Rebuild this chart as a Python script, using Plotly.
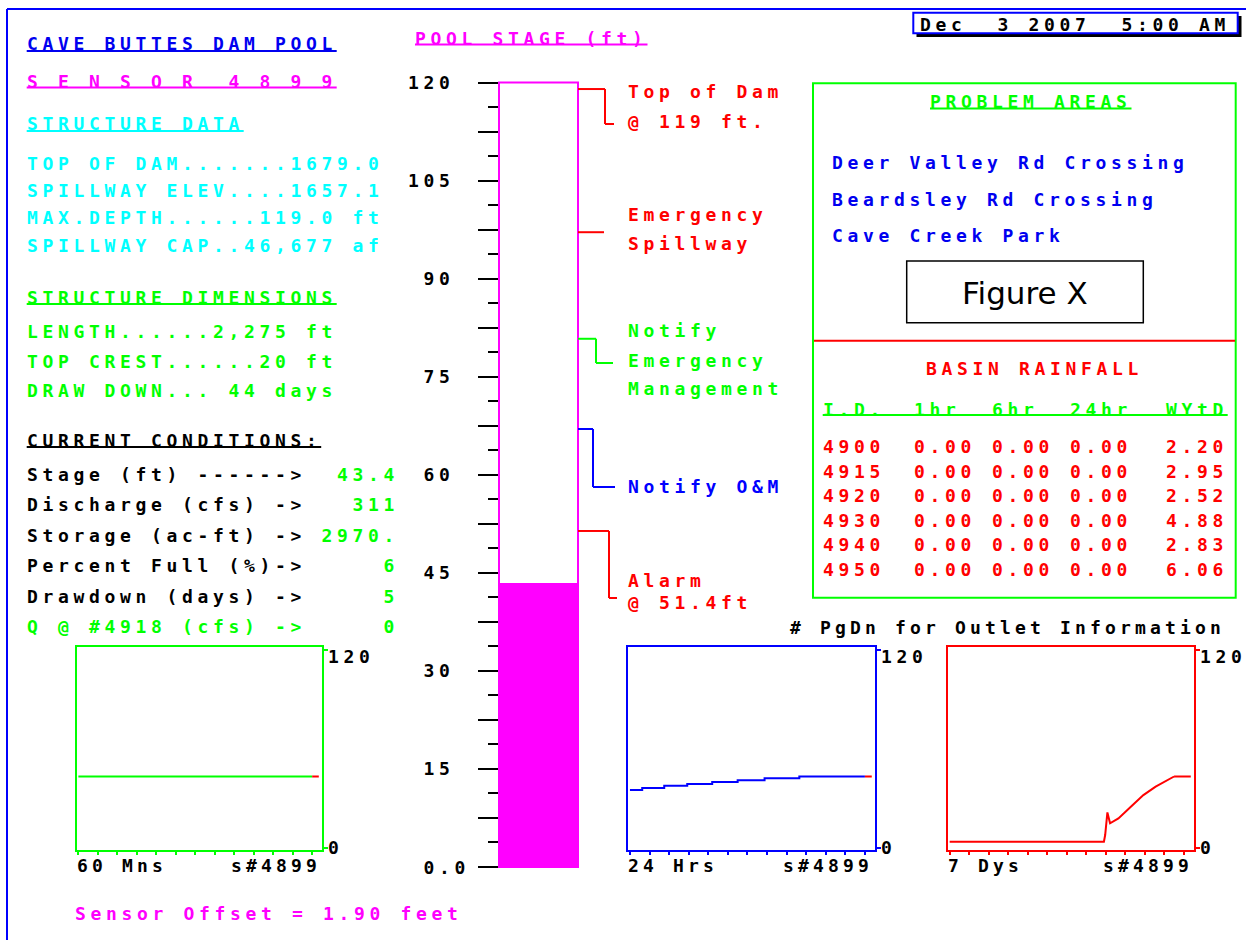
import plotly.graph_objects as go

W, H = 1246, 940

# ------------------------------------------------------------------ data
date_stamp = "Dec  3 2007  5:00 AM"
site_title = "CAVE BUTTES DAM POOL"
sensor_id = "4899"

structure_names = ["TOP OF DAM.......", "SPILLWAY ELEV....", "MAX.DEPTH......", "SPILLWAY CAP.."]
structure_values = ["1679.0", "1657.1", "119.0 ft", "46,677 af"]

dimension_names = ["LENGTH......", "TOP CREST......", "DRAW DOWN... "]
dimension_values = ["2,275 ft", "20 ft", "44 days"]

condition_labels = ["Stage (ft) ------>", "Discharge (cfs) ->", "Storage (ac-ft) ->",
                    "Percent Full (%)->", "Drawdown (days) ->", "Q @ #4918 (cfs) ->"]
condition_values = ["43.4", "311", "2970.", "6", "5", "0"]

stage_now = 43.4
stage_top = 120
stage_label_vals = [120, 105, 90, 75, 60, 45, 30, 15, 0]
threshold_levels = [119.0, 97.1, 80.8, 67.0, 51.4]
threshold_texts = [["Top of Dam", "@ 119 ft."], ["Emergency", "Spillway"],
                   ["Notify", "Emergency", "Management"], ["Notify O&amp;M"], ["Alarm", "@ 51.4ft"]]

problem_areas = ["Deer Valley Rd Crossing", "Beardsley Rd Crossing", "Cave Creek Park"]

rain_header = ["I.D.", "1hr", "6hr", "24hr", "WYtD"]
rain_ids = ["4900", "4915", "4920", "4930", "4940", "4950"]
rain_1hr = [0.00, 0.00, 0.00, 0.00, 0.00, 0.00]
rain_6hr = [0.00, 0.00, 0.00, 0.00, 0.00, 0.00]
rain_24hr = [0.00, 0.00, 0.00, 0.00, 0.00, 0.00]
rain_wytd = [2.20, 2.95, 2.52, 4.88, 2.83, 6.06]

m60_minutes = [0, 5, 10, 15, 20, 25, 30, 35, 40, 45, 50, 55, 60, 61.7]
m60_stage = [43.4, 43.4, 43.4, 43.4, 43.4, 43.4, 43.4, 43.4, 43.4, 43.4, 43.4, 43.4, 43.4, 43.4]
h24_hours = [0, 1.25, 3.5, 5.85, 8.4, 11.0, 13.75, 17.3, 24.0, 24.7]
h24_stage = [35.2, 36.4, 37.8, 38.8, 40.0, 41.2, 42.4, 43.4, 43.4, 43.4]
d7_hours = [0, 110.6, 111.5, 113.1, 115.0, 121.0, 129.9, 138.9, 147.7, 156.5, 160.9, 172.9]
d7_stage = [3.8, 3.8, 7.9, 21.6, 15.0, 18.0, 25.0, 32.1, 37.2, 41.2, 43.4, 43.4]

sensor_offset = "1.90"

# ------------------------------------------------------------------ style
BLUE = "#0000f0"
LBLUE = "#0000ff"
MAG = "#ff00ff"
CYAN = "#00ffff"
GREEN = "#00ff00"
RED = "#ff0000"
BLACK = "#000000"
MONO = "DejaVu Sans Mono"
FS = 18
P = 15.5
NB = "\u00a0"


def px(x):
    return x / W


def py(y):
    return 1 - y / H


annotations = []
shapes = []


def text(x, y, parts, pitch=P, anchor="left", size=FS):
    ls = pitch - 0.6021 * size
    html = "".join(
        '<span style="color:%s;letter-spacing:%.2fpx">%s</span>' % (c, ls, s.replace(" ", NB))
        for s, c in parts)
    annotations.append(dict(x=px(x), y=py(y), xref="paper", yref="paper", text=html,
                            showarrow=False, xanchor=anchor, yanchor="middle",
                            font=dict(family=MONO, size=size, weight="bold"),
                            borderpad=0, borderwidth=0))


def uline(x, y, n, color, pitch=P):
    shapes.append(dict(type="line", xref="paper", yref="paper", x0=px(x), x1=px(x + n * pitch),
                       y0=py(y), y1=py(y), line=dict(color=color, width=2)))


def seg(x0, y0, x1, y1, color, width=2):
    shapes.append(dict(type="line", xref="paper", yref="paper", x0=px(x0), x1=px(x1),
                       y0=py(y0), y1=py(y1), line=dict(color=color, width=width)))


# outer frame
seg(7, 9, W, 9, LBLUE)
seg(7, 9, 7, H, LBLUE)

# ------------------------------------------------------------------ left column
LX = 26.7
text(LX, 44, [(site_title, BLUE)])
uline(LX, 51, len(site_title), BLUE)
sensor_txt = " ".join("SENSOR") + "  " + " ".join(sensor_id)
text(LX, 81, [(sensor_txt, MAG)])
uline(LX, 87.5, len(sensor_txt), MAG)
text(LX, 124, [("STRUCTURE DATA", CYAN)])
uline(LX, 131, len("STRUCTURE DATA"), CYAN)
for i, (n, v) in enumerate(zip(structure_names, structure_values)):
    text(LX, 163.3 + i * 27.3, [(n + v, CYAN)])
text(LX, 297.8, [("STRUCTURE DIMENSIONS", GREEN)])
uline(LX, 304, len("STRUCTURE DIMENSIONS"), GREEN)
for i, (n, v) in enumerate(zip(dimension_names, dimension_values)):
    text(LX, 332 + i * 29, [(n + v, GREEN)])
text(LX, 440.8, [("CURRENT CONDITIONS:", BLACK)])
uline(LX, 447, len("CURRENT CONDITIONS:"), BLACK)
for i, (lab, v) in enumerate(zip(condition_labels, condition_values)):
    lc = GREEN if lab.startswith("Q") else BLACK
    text(LX, 474 + i * 30.5, [(lab, lc), (v.rjust(6), GREEN)])

text(75, 913.3, [("Sensor Offset = %s feet" % sensor_offset, MAG)])

# ------------------------------------------------------------------ gauge
G_TOP, G_BOT = 82.5, 867.0
G_L, G_R = 499.0, 578.0


def gy(v):
    return G_BOT - v / stage_top * (G_BOT - G_TOP)


text(415, 38.5, [("POOL STAGE (ft)", MAG)])
uline(415, 44.5, len("POOL STAGE (ft)"), MAG)

fig = go.Figure()
fig.add_trace(go.Bar(x=[0.5], y=[stage_now], width=[1], xaxis="x", yaxis="y",
                     marker=dict(color=MAG, line=dict(width=0)), showlegend=False,
                     hoverinfo="skip"))
shapes.append(dict(type="rect", xref="paper", yref="paper", x0=px(G_L), x1=px(G_R),
                   y0=py(gy(0)), y1=py(gy(stage_top)),
                   line=dict(color=MAG, width=2), layer="above"))

for v in stage_label_vals:
    lab = " 0.0" if v == 0 else str(v).rjust(3)
    annotations.append(dict(x=px(408), y=v, xref="paper", yref="y",
                            text='<span style="letter-spacing:%.2fpx">%s</span>' % (P - 0.6021 * FS, lab.replace(" ", NB)),
                            showarrow=False, xanchor="left", yanchor="middle",
                            font=dict(family=MONO, size=FS, weight="bold", color=BLACK),
                            borderpad=0, borderwidth=0))

# threshold connectors: (elbow x, tail y, tail end x, label ys, color)
conn_style = [
    (605, 124, 614, [91.7, 121.7], RED),
    (604, None, None, [215, 243], RED),
    (596, 363, 613, [330, 360, 388], GREEN),
    (593, 487, 615, [486], LBLUE),
    (609, 598, 617, [580, 602], RED),
]
for lev, lines, (ex, ty, tx, lys, col) in zip(threshold_levels, threshold_texts, conn_style):
    ly = gy(lev)
    seg(G_R, ly, ex, ly, col)
    if ty is not None:
        seg(ex, ly, ex, ty, col)
        seg(ex, ty, tx, ty, col)
    for t, yy in zip(lines, lys):
        text(627.7, yy, [(t, col)])

# ------------------------------------------------------------------ date box
shapes.append(dict(type="rect", xref="paper", yref="paper", x0=px(916.5), x1=px(1241.5),
                   y0=py(37), y1=py(16), fillcolor=BLACK, line=dict(width=0)))
shapes.append(dict(type="rect", xref="paper", yref="paper", x0=px(913.3), x1=px(1237.7),
                   y0=py(33.3), y1=py(12.7), fillcolor="white", line=dict(color=LBLUE, width=2)))
text(920, 24.5, [(date_stamp, BLACK)])

# ------------------------------------------------------------------ right panel
shapes.append(dict(type="rect", xref="paper", yref="paper", x0=px(813), x1=px(1235.7),
                   y0=py(597.7), y1=py(83.3), line=dict(color=GREEN, width=2)))
seg(814, 340.7, 1235, 340.7, RED)
text(930, 101.7, [("PROBLEM AREAS", GREEN)])
uline(930, 108.5, len("PROBLEM AREAS"), GREEN)
for i, pa in enumerate(problem_areas):
    text(832.3, 162.3 + i * 36.7, [(pa, BLUE)])

shapes.append(dict(type="rect", xref="paper", yref="paper", x0=px(906.7), x1=px(1143.3),
                   y0=py(322.7), y1=py(261), line=dict(color=BLACK, width=1.5)))
annotations.append(dict(x=px(1025), y=py(292.5), xref="paper", yref="paper", text="Figure X",
                        showarrow=False, xanchor="center", yanchor="middle",
                        font=dict(family="DejaVu Sans", size=31, color=BLACK)))

text(926, 368.3, [("BASIN RAINFALL", RED)])
cols = [822.7, 914.3, 992.3, 1070.0, 1165.7]
for c, h in zip(cols, rain_header):
    text(c, 409.3, [(h, GREEN)])
seg(cols[0], 415, cols[-1] + 4 * P, 415, GREEN)
for i, rid in enumerate(rain_ids):
    yy = 446.5 + i * 24.5
    vals = [rid, "%.2f" % rain_1hr[i], "%.2f" % rain_6hr[i], "%.2f" % rain_24hr[i], "%.2f" % rain_wytd[i]]
    for c, v in zip(cols, vals):
        text(c, yy, [(v, RED)])

text(790, 627, [("# PgDn for Outlet Information", BLACK)], pitch=15.0)

# ------------------------------------------------------------------ mini charts
MT, MB = 647.3, 850.0
mini = [
    dict(x0=76.7, x1=322.3, color=GREEN, t=m60_minutes, s=m60_stage, tip=RED, shape="hv",
         rng=[-0.43, 62.6], ticks=[0, 5, 10, 15, 20, 25, 30, 35, 40, 45, 50, 55, 60], lab="60 Mns"),
    dict(x0=628.3, x1=875.0, color=LBLUE, t=h24_hours, s=h24_stage, tip=RED, shape="hv",
         rng=[-0.17, 25.03], ticks=[0, 2, 4, 6, 8, 10, 12, 14, 16, 18, 20, 22, 24], lab="24 Hrs"),
    dict(x0=948.0, x1=1194.0, color=RED, t=d7_hours, s=d7_stage, tip=RED, shape="linear",
         rng=[-1.2, 175.2], ticks=[0, 14, 28, 42, 56, 70, 84, 98, 112, 126, 140, 154, 168], lab="7 Dys"),
]
layout_axes = {}
for k, m in enumerate(mini):
    n = k + 2
    xa, ya = "x%d" % n, "y%d" % n
    fig.add_trace(go.Scatter(x=m["t"][:-1], y=m["s"][:-1], mode="lines", xaxis=xa, yaxis=ya,
                             line=dict(color=m["color"], width=2, shape=m["shape"]),
                             showlegend=False, hoverinfo="skip"))
    fig.add_trace(go.Scatter(x=m["t"][-2:], y=m["s"][-2:], mode="lines", xaxis=xa, yaxis=ya,
                             line=dict(color=m["tip"], width=2),
                             showlegend=False, hoverinfo="skip"))
    layout_axes["xaxis%d" % n] = dict(domain=[px(m["x0"]), px(m["x1"])], range=m["rng"], anchor=ya,
                                      showgrid=False, zeroline=False, showline=True, mirror=True,
                                      linecolor=m["color"], linewidth=2, ticks="outside",
                                      tickmode="array", tickvals=m["ticks"], ticklen=3, tickwidth=2,
                                      tickcolor=m["color"], showticklabels=False, fixedrange=True)
    layout_axes["yaxis%d" % n] = dict(domain=[py(MB), py(MT)], range=[-1.2, 121.8], anchor=xa,
                                      side="right", showgrid=False, zeroline=False, showline=True,
                                      mirror=True, linecolor=m["color"], linewidth=2,
                                      ticks="outside", tickmode="array", tickvals=[0, 120],
                                      ticklen=4, tickwidth=2, tickcolor=m["color"],
                                      showticklabels=False, fixedrange=True)
    text(m["x1"] + 6, 656, [("120", BLACK)])
    text(m["x1"] + 6, 847.3, [("0", BLACK)])
    text(m["x0"], 865, [(m["lab"], BLACK)], pitch=15.0)
    text(m["x0"] + 154.7, 865, [("s#" + sensor_id, BLACK)], pitch=15.0)

minor_vals = [i * 3.75 for i in range(33)]
major_vals = [i * 7.5 for i in range(17)]

fig.update_layout(
    width=W, height=H, margin=dict(l=0, r=0, t=0, b=0, pad=0),
    paper_bgcolor="white", plot_bgcolor="white", showlegend=False, bargap=0,
    xaxis=dict(domain=[px(G_L), px(G_R)], range=[0, 1], visible=False, fixedrange=True),
    yaxis=dict(domain=[py(G_BOT), py(G_TOP)], range=[0, stage_top], anchor="x",
               showgrid=False, zeroline=False, showline=False, ticks="outside",
               tickmode="array", tickvals=major_vals, ticklen=20, tickwidth=2, tickcolor=BLACK,
               showticklabels=False, fixedrange=True,
               minor=dict(ticks="outside", tickmode="array", tickvals=minor_vals, ticklen=10,
                          tickwidth=2, tickcolor=BLACK, showgrid=False)),
    annotations=annotations, shapes=shapes,
    **layout_axes,
)

fig.write_html("out.html", config={"displayModeBar": False, "staticPlot": True},
               post_script="document.body.style.margin='0';document.body.style.overflow='hidden';")
